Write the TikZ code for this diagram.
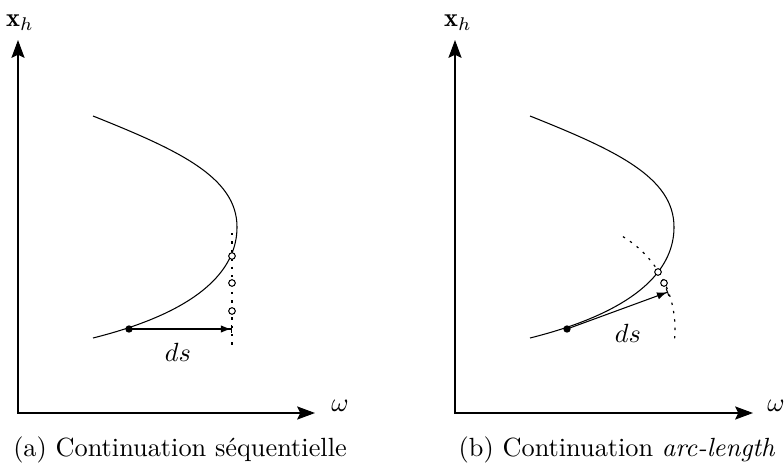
\documentclass[tikz,border=0pt]{standalone}
\usepackage{fontspec}
\usetikzlibrary{arrows.meta}
\begin{document}
\begin{tikzpicture}[x=0.38pt,y=-0.38pt,
  axis/.style={line width=0.4pt,{Stealth[length=6.8pt,width=5pt,inset=1.2pt]}-{Stealth[length=6.8pt,width=5pt,inset=1.2pt]}},
  curve/.style={line width=0.4pt},
  fdot/.style={circle,fill=black,inner sep=0pt,minimum size=2.8pt},
  odot/.style={circle,draw=black,fill=white,line width=0.4pt,inner sep=0pt,minimum size=2.5pt},
  dsarrow/.style={line width=0.4pt,-{Latex[length=3.8pt,width=2.8pt]Bar[width=3pt]}},
  dotline/.style={line width=0.45pt,dash pattern=on 0.9pt off 2.3pt},
  lab/.style={inner sep=0pt},
]
\useasboundingbox (0,0) rectangle (784,466);

% ---------- panel (a) ----------
\coordinate (Y1) at (18,40);
\coordinate (O1) at (18,413);
\coordinate (X1) at (315,413);
\draw[axis] (Y1) -- (O1) -- (X1);
\node[lab] (xh1) at (20,23) {$\mathbf{x}_h$};
\node[lab] (w1) at (340,406) {$\omega$};
\draw[curve] (93,116) .. controls (178,150) and (237,177) .. (237,227)
  .. controls (237,257) and (219,306.5) .. (93,338);
\coordinate (dt1) at (232,233);
\coordinate (db1) at (232,350);
\draw[dotline] (dt1) -- (db1);
\coordinate (p1c) at (129,329);
\coordinate (e1) at (232,329);
\draw[dsarrow] (p1c) -- (e1);
\node[fdot] (p1) at (p1c) {};
\node[odot] (c11) at (232,256) {};
\node[odot] (c12) at (232,283) {};
\node[odot] (c13) at (232,311) {};
\node[lab] (ds1) at (178,352) {$ds$};
\node[anchor=base] (cap1) at (180,456) {(a) Continuation séquentielle};

% ---------- panel (b) ----------
\coordinate (Y2) at (455,40);
\coordinate (O2) at (455,413);
\coordinate (X2) at (753,413);
\draw[axis] (Y2) -- (O2) -- (X2);
\node[lab] (xh2) at (458,23) {$\mathbf{x}_h$};
\node[lab] (w2) at (776,406) {$\omega$};
\draw[curve] (530,116) .. controls (615,150) and (674,177) .. (674,227)
  .. controls (674,257) and (656,306.5) .. (530,338);
\coordinate (p2c) at (567,329);
\draw[dotline] (p2c) ++(5:108) arc[start angle=5,end angle=-61,radius=108];
\coordinate (e2) at (668,292);
\draw[dsarrow] (p2c) -- (e2);
\node[fdot] (p2) at (p2c) {};
\node[odot] (c21) at (658,272) {};
\node[odot] (c22) at (664,283) {};
\node[lab] (ds2) at (628,333) {$ds$};
\node[anchor=base] (cap2) at (617,456) {(b) Continuation \emph{arc-length}};
\end{tikzpicture}
\end{document}
